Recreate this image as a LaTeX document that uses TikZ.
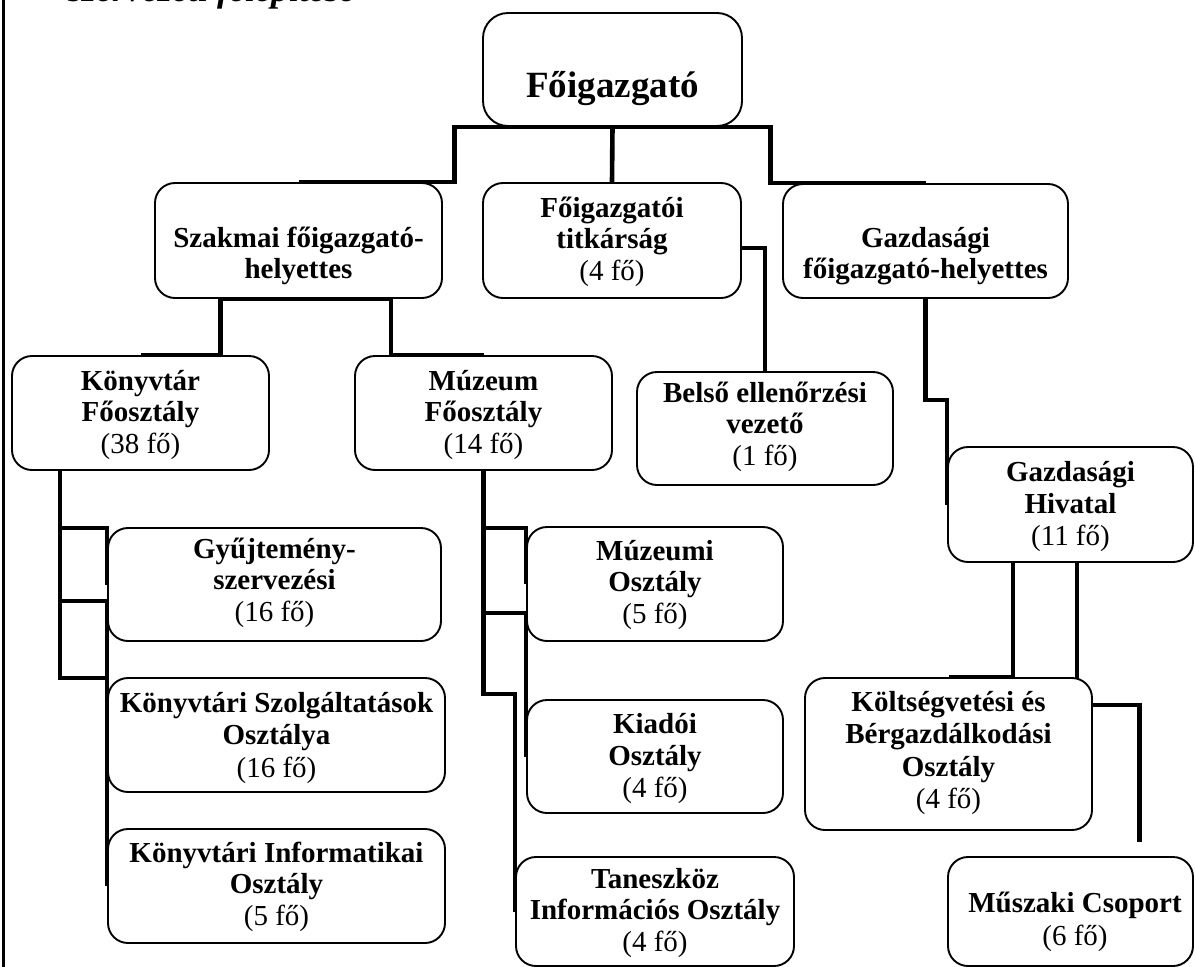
\documentclass[tikz,border=0pt]{standalone}
\usepackage{fontspec}
\setmainfont{Liberation Serif}
\pgfdeclarelayer{background}
\pgfsetlayers{background,main}
\newcommand\cnt[1]{{\mdseries (#1 fő)}}
\newcommand\fl{\rule{0pt}{24pt}}
\newcommand\tls{\lineskiplimit=-50pt\relax}
\newcommand\bx[1]{\fontsize{29}{#1}\selectfont\bfseries\tls}
\begin{document}
\begin{tikzpicture}[x=1pt,y=-1pt,
  box/.style={draw, line width=1.9pt, rounded corners=20pt, fill=white, inner sep=0pt},
  txt/.style={align=center, inner sep=0pt, anchor=north, font={\bx{31.5}}},
  conn/.style={line width=4.6pt}]
\useasboundingbox (0,0) rectangle (1195,967);

% page border and cut title
\draw[line width=3pt] (3,0) -- (3,967);
\node[anchor=base west, inner sep=0pt, font={\fontsize{36}{40}\selectfont\bfseries\itshape}] (title) at (68,1.5) {szervezeti felépítése};

% boxes
\node[box, minimum width=259pt, minimum height=113pt, rounded corners=25pt] (fg) at (612.5,69.5) {};
\node[box, minimum width=287pt, minimum height=115pt] (sz) at (298.5,240.5) {};
\node[box, minimum width=258pt, minimum height=115pt] (ti) at (612,240.5) {};
\node[box, minimum width=285pt, minimum height=114pt] (gf) at (925.5,241) {};
\node[box, minimum width=257pt, minimum height=114pt] (kt) at (140.5,413) {};
\node[box, minimum width=257pt, minimum height=114pt] (mz) at (483.5,413) {};
\node[box, minimum width=256pt, minimum height=113pt] (be) at (765,428.5) {};
\node[box, minimum width=245pt, minimum height=115pt] (gh) at (1070.5,504.5) {};
\node[box, minimum width=333pt, minimum height=113pt] (gy) at (274.5,584.5) {};
\node[box, minimum width=337pt, minimum height=114pt] (ksz) at (276.5,735) {};
\node[box, minimum width=337pt, minimum height=114pt] (ki) at (276.5,886) {};
\node[box, minimum width=256pt, minimum height=114pt] (mo) at (655,584) {};
\node[box, minimum width=256pt, minimum height=113pt] (ka) at (655,756.5) {};
\node[box, minimum width=278pt, minimum height=109pt] (ta) at (655,911.5) {};
\node[box, minimum width=287pt, minimum height=152pt] (ko) at (948.5,754) {};
\node[box, minimum width=245pt, minimum height=109pt] (mu) at (1070.5,911.5) {};

% texts
\node[txt, font={\fontsize{37}{40}\selectfont\bfseries}] (fgt) at (612.5,67) {\rule{0pt}{30pt}Főigazgató};
\node[txt] (szt) at (298.5,223) {\fl Szakmai főigazgató-\\helyettes};
\node[txt] (tit) at (612,193) {\fl Főigazgatói\\titkárság\\\cnt{4}};
\node[txt] (gft) at (925.5,223) {\fl Gazdasági\\főigazgató-helyettes};
\node[txt] (ktt) at (140.5,366) {\fl Könyvtár\\Főosztály\\\cnt{38}};
\node[txt] (mzt) at (483.5,366) {\fl Múzeum\\Főosztály\\\cnt{14}};
\node[txt] (bet) at (765,378) {\fl Belső ellenőrzési\\vezető\\\cnt{1}};
\node[txt, font={\bx{32}}] (ght) at (1070.5,457) {\fl Gazdasági\\Hivatal\\\cnt{11}};
\node[txt] (gyt) at (274.5,534) {\fl Gyűjtemény-\\szervezési\\\cnt{16}};
\node[txt, font={\bx{32.5}}] (kszt) at (276.5,688) {\fl Könyvtári Szolgáltatások\\Osztálya\\\cnt{16}};
\node[txt] (kit) at (276.5,838) {\fl Könyvtári Informatikai\\Osztály\\\cnt{5}};
\node[txt] (mot) at (655,536) {\fl Múzeumi\\Osztály\\\cnt{5}};
\node[txt, font={\bx{32}}] (kat) at (655,709) {\fl Kiadói\\Osztály\\\cnt{4}};
\node[txt] (tat) at (655,864) {\fl Taneszköz\\Információs Osztály\\\cnt{4}};
\node[txt, font={\bx{32.5}}] (kot) at (948.5,687) {\fl Költségvetési és\\Bérgazdálkodási\\Osztály\\\cnt{4}};
\node[txt, font={\bx{33}}] (mut) at (1075,888) {\fl Műszaki Csoport\\\cnt{6}};

% connectors
\draw[conn] (fg.south) -- ++(-158,0) |- (sz.north);
\draw[conn] (fg.south) -- (ti.north);
\draw[conn] (fg.south) -- ++(158,0) |- (gf.north);
\draw[conn] ([yshift=-7.5pt]ti.east) -| (be.north);
\draw[conn] (sz.south) -- ++(-78,0) |- (kt.north);
\draw[conn] (sz.south) -- ++(92.5,0) |- (mz.north);
\draw[conn] (gf.south) -- ++(0,101) -| (gh.west);
\draw[conn] ([xshift=-80.5pt]kt.south) -- ++(0,57) -| (gy.west);
\draw[conn] ([xshift=-80.5pt]kt.south) -- ++(0,130) -| (ksz.west);
\draw[conn] ([xshift=-80.5pt]kt.south) -- ++(0,207) -| (ki.west);
\draw[conn] (mz.south) -- ++(0,57) -| (mo.west);
\draw[conn] (mz.south) -- ++(0,142) -| (ka.west);
\draw[conn] (mz.south) -- ++(0,223) -| (ta.west);
\draw[conn] ([xshift=-57.5pt]gh.south) |- (ko.north);
\begin{pgfonlayer}{background}
\draw[conn] ([xshift=6.5pt]gh.south) -- ++(0,142) -| ([xshift=69pt,yshift=14pt]mu.north);
\end{pgfonlayer}
\end{tikzpicture}
\end{document}
